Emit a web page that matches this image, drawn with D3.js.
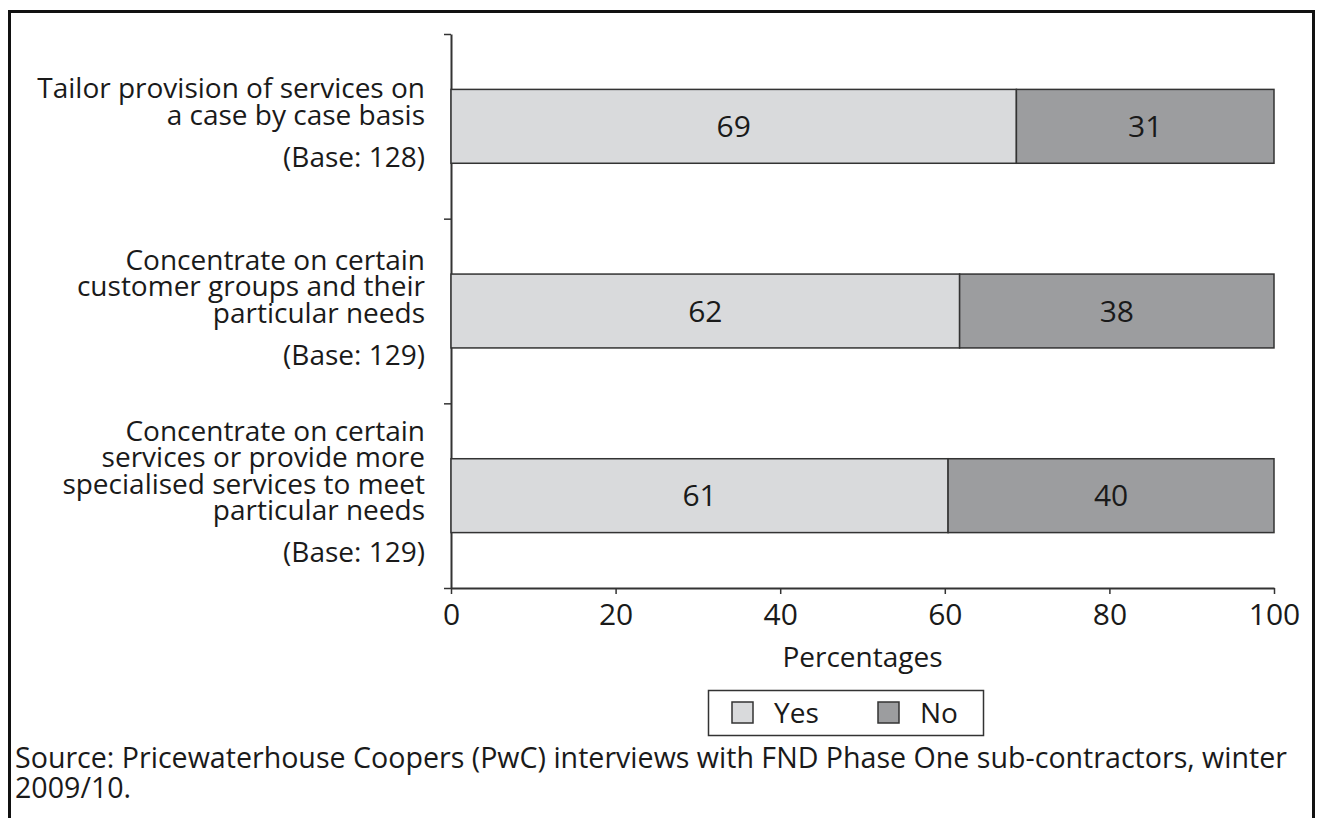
<!DOCTYPE html>
<html lang="en">
<head>
    <meta charset="UTF-8">
    <script src="https://d3js.org/d3.v7.min.js"></script>
    <title>Service tailoring</title>
    <style>
        body { margin: 0; background: #fff; }
        svg text { font-family: "Open Sans", "DejaVu Sans", sans-serif; fill: #1a1a1a; }
    </style>
</head>
<body>
    <div id="chart"></div>
    <script>
        // chart values
        const categoryLines = [
            ["Tailor provision of services on", "a case by case basis"],
            ["Concentrate on certain", "customer groups and their", "particular needs"],
            ["Concentrate on certain", "services or provide more", "specialised services to meet", "particular needs"]
        ];
        const bases = [128, 129, 129];
        const yesValues = [68.7, 61.8, 60.4];
        const noValues = [31.3, 38.2, 39.6];
        const yesLabels = [69, 62, 61];
        const noLabels = [31, 38, 40];
        const xTicks = [0, 20, 40, 60, 80, 100];
        const seriesNames = ["Yes", "No"];
        const seriesColors = ["#d9dadc", "#9c9d9f"];
        const sourceLines = [
            "Source: Pricewaterhouse Coopers (PwC) interviews with FND Phase One sub-contractors, winter",
            "2009/10."
        ];

        const width = 1319, height = 818;
        const textSize = 28, numSize = 30;

        const svg = d3.select("#chart").append("svg")
            .attr("width", width)
            .attr("height", height);

        // frame (open at the bottom)
        svg.append("path")
            .attr("d", "M9.5,830 L9.5,11.5 L1313.5,11.5 L1313.5,830")
            .attr("fill", "none")
            .attr("stroke", "#111")
            .attr("stroke-width", 3);

        const x = d3.scaleLinear().domain([0, 100]).range([451, 1274]);
        const y = d3.scaleBand().domain(d3.range(categoryLines.length)).range([34, 588])
            .paddingInner(0.6).paddingOuter(0.3);

        // y axis with ticks at band boundaries
        const yEdge = d3.scaleLinear().domain([0, categoryLines.length]).range([34, 588]);
        const yAxis = svg.append("g")
            .attr("transform", "translate(451,0)")
            .call(d3.axisLeft(yEdge).tickValues(d3.range(categoryLines.length + 1)).tickSize(7).tickSizeOuter(0).tickFormat(""));
        yAxis.select(".domain").attr("stroke", "#333").attr("stroke-width", 2);
        yAxis.selectAll(".tick line").attr("stroke", "#333").attr("stroke-width", 1.5);

        // x axis
        const xAxis = svg.append("g")
            .attr("transform", "translate(0,588)")
            .call(d3.axisBottom(x).tickValues(xTicks).tickSize(6).tickSizeOuter(0).tickPadding(10));
        xAxis.select(".domain").attr("stroke", "#333").attr("stroke-width", 2);
        xAxis.selectAll(".tick line").attr("stroke", "#333").attr("stroke-width", 1.5);
        xAxis.selectAll(".tick text")
            .style("font-size", numSize + "px")
            .style("font-family", "\"Open Sans\", sans-serif")
            .attr("fill", "#1a1a1a");

        svg.append("text")
            .attr("x", x(50))
            .attr("y", 667)
            .attr("text-anchor", "middle")
            .style("font-size", textSize + "px")
            .style("font-weight", 500)
            .text("Percentages");

        // bars
        const rows = categoryLines.map((lines, i) => ({
            i: i,
            segs: [
                { s: 0, x0: 0, x1: yesValues[i], label: yesLabels[i] },
                { s: 1, x0: yesValues[i], x1: yesValues[i] + noValues[i], label: noLabels[i] }
            ]
        }));

        const rowG = svg.selectAll(".row")
            .data(rows)
            .enter()
            .append("g")
            .attr("class", "row");

        const segG = rowG.selectAll(".seg")
            .data(d => d.segs.map(s => Object.assign({ i: d.i }, s)))
            .enter()
            .append("g");

        segG.append("rect")
            .attr("x", d => x(d.x0))
            .attr("y", d => y(d.i))
            .attr("width", d => x(d.x1) - x(d.x0))
            .attr("height", y.bandwidth())
            .attr("fill", d => seriesColors[d.s])
            .attr("stroke", "#333")
            .attr("stroke-width", 1.5);

        segG.append("text")
            .attr("x", d => (x(d.x0) + x(d.x1)) / 2)
            .attr("y", d => y(d.i) + y.bandwidth() / 2)
            .attr("dy", "0.36em")
            .attr("text-anchor", "middle")
            .style("font-size", numSize + "px")
            .text(d => d.label);

        // category labels: one text per category, lines plus base, centred on the bar
        const lineH = 26.5, baseGap = 42;
        categoryLines.forEach((lines, i) => {
            const cy = y(i) + y.bandwidth() / 2;
            const first = cy - ((lines.length - 1) * lineH + baseGap) / 2 + 6;
            const t = svg.append("text")
                .attr("text-anchor", "end")
                .style("font-size", textSize + "px");
            lines.forEach((ln, j) => {
                t.append("tspan")
                    .attr("x", 425)
                    .attr("y", first + j * lineH)
                    .text(ln);
            });
            t.append("tspan")
                .attr("x", 425)
                .attr("y", first + (lines.length - 1) * lineH + baseGap)
                .text("(Base: " + bases[i] + ")");
        });

        // legend
        const legend = svg.append("g");
        legend.append("rect")
            .attr("x", 708.5).attr("y", 690.5)
            .attr("width", 275).attr("height", 45)
            .attr("fill", "#fff").attr("stroke", "#333").attr("stroke-width", 1.5);
        const legendX = [732, 878];
        seriesNames.forEach((name, i) => {
            legend.append("rect")
                .attr("x", legendX[i]).attr("y", 702)
                .attr("width", 21).attr("height", 21)
                .attr("fill", seriesColors[i]).attr("stroke", "#333").attr("stroke-width", 1.5);
            legend.append("text")
                .attr("x", legendX[i] + 42).attr("y", 713)
                .attr("dy", "0.36em")
                .style("font-size", textSize + "px")
                .text(name);
        });

        // source note
        const src = svg.append("text")
            .style("font-size", "28.6px");
        sourceLines.forEach((ln, j) => {
            src.append("tspan")
                .attr("x", 15)
                .attr("y", 768 + j * 30)
                .text(ln);
        });
    </script>
</body>
</html>
